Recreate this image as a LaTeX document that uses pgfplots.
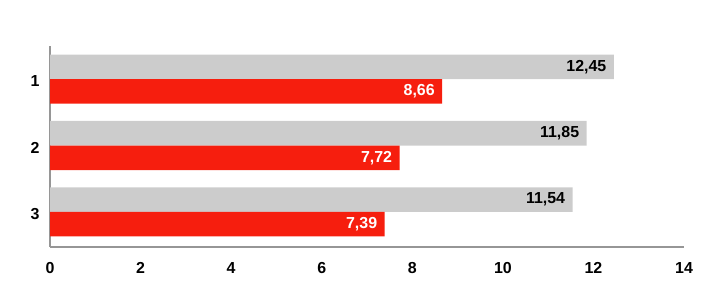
\documentclass[border=0pt]{standalone}
\usepackage{pgfplots}
\pgfplotsset{compat=1.18}
\usepackage{fontspec}
\setmainfont{Liberation Sans}
\definecolor{barGray}{RGB}{204,204,204}
\definecolor{barRed}{RGB}{246,30,14}
\definecolor{axGray}{RGB}{150,150,150}
\begin{document}
\begin{tikzpicture}[x=1bp,y=1bp]
\path[use as bounding box] (0,0) rectangle (711,305);
\begin{axis}[
  at={(50bp,58bp)}, anchor=south west,
  scale only axis, width=634bp, height=201bp,
  xbar, xmin=0, xmax=14,
  ymin=0.5, ymax=3.53, y dir=reverse,
  ytick={1,2,3}, yticklabels={1,2,3},
  xtick={0,2,...,14},
  axis x line*=bottom, axis y line*=left,
  axis line style={axGray, line width=1.2pt, -},
  major tick length=0pt,
  tick style={draw=none},
  bar width=0.37,
  /pgf/number format/assume math mode=true,
  /pgf/number format/use comma,
  /pgf/number format/fixed,
  /pgf/number format/precision=2,
  /pgf/number format/fixed zerofill,
  xticklabel style={font=\fontsize{16}{18}\selectfont\bfseries, yshift=-12bp},
  yticklabel style={font=\fontsize{16}{18}\selectfont\bfseries, xshift=-7bp, yshift=-2bp},
  xticklabel={\pgfmathprintnumber[fixed,precision=0]{\tick}},
  nodes near coords,
  every node near coord/.append style={anchor=east, xshift=-4bp, font=\fontsize{16}{18}\selectfont\bfseries},
]
\addplot[fill=barGray, draw=none, bar shift=-0.185, every node near coord/.append style={text=black}]
  coordinates {(12.45,1) (11.85,2) (11.54,3)};
\addplot[fill=barRed, draw=none, bar shift=0.185, every node near coord/.append style={text=white}]
  coordinates {(8.66,1) (7.72,2) (7.39,3)};
\end{axis}
\end{tikzpicture}
\end{document}
